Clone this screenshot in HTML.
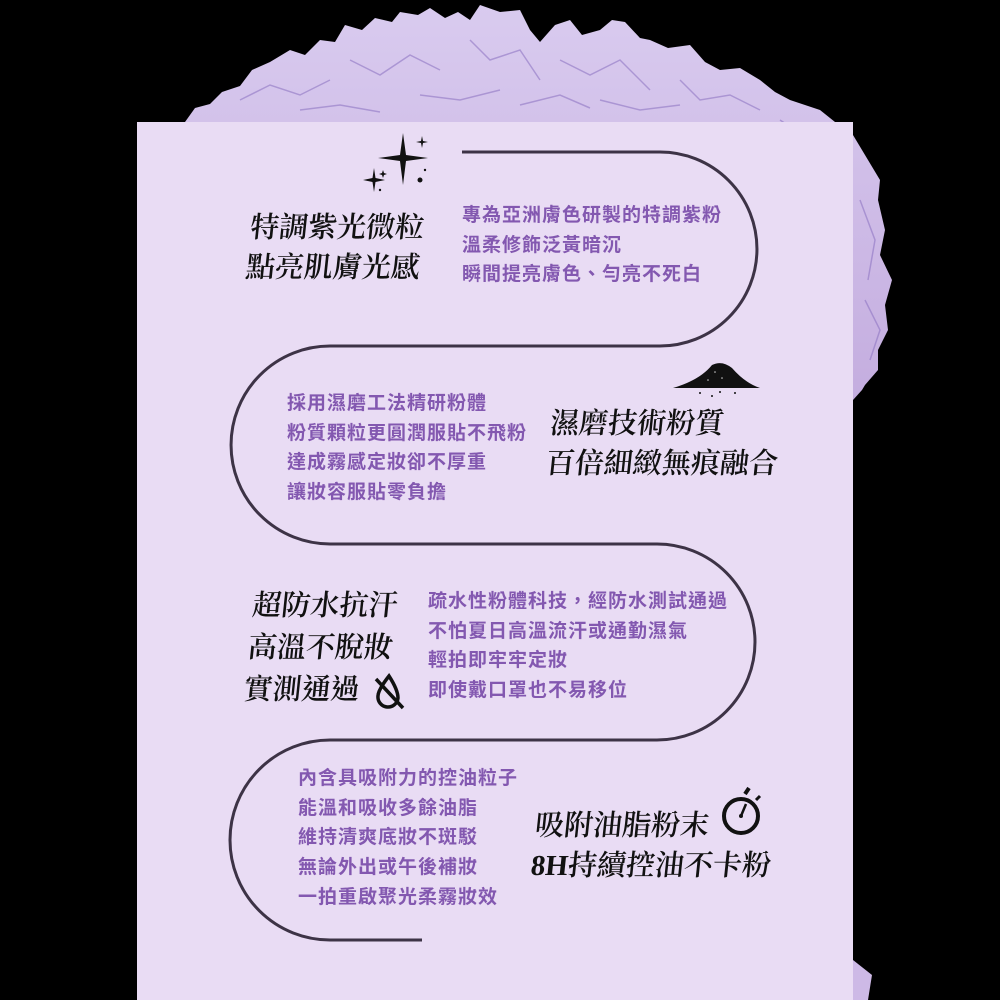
<!DOCTYPE html>
<html><head><meta charset="utf-8"><style>
html,body{margin:0;padding:0;background:#000;}
#c{position:relative;width:1000px;height:1000px;overflow:hidden;background:#000;}
.h{position:absolute;font-family:"Liberation Serif","Noto Serif CJK TC",serif;font-size:29px;letter-spacing:0px;color:#111;line-height:40px;white-space:nowrap;transform:skewX(-6deg);font-weight:600;}
.b{position:absolute;font-family:"Liberation Sans","Noto Sans CJK TC",sans-serif;font-weight:bold;font-size:19px;letter-spacing:1px;color:#8358b0;line-height:29.7px;white-space:nowrap;}
</style></head><body><div id="c">
<svg width="1000" height="1000" style="position:absolute;left:0;top:0">
<defs>
<linearGradient id="pg" x1="0" y1="0" x2="0" y2="1"><stop offset="0" stop-color="#d9cbef"/><stop offset="1" stop-color="#c4addf"/></linearGradient>
</defs>
<path d="M185,122 L195,108 L210,104 L222,92 L240,86 L252,70 L270,62 L290,50 L305,55 L320,40 L335,42 L345,25 L362,30 L375,18 L392,22 L400,12 L418,15 L430,8 L445,18 L458,12 L470,20 L480,5 L500,12 L520,10 L530,30 L540,42 L555,25 L570,20 L582,35 L600,30 L612,20 L625,22 L640,38 L650,40 L668,48 L690,45 L705,62 L720,70 L740,68 L760,80 L775,92 L790,100 L805,105 L820,110 L835,122 L850,130 L862,150 L868,160 L880,180 L878,200 L885,230 L880,255 L892,280 L885,305 L888,330 L878,350 L878,370 L865,385 L862,390 L853,400 L853,122 Z" fill="url(#pg)"/>
<g stroke="#9077c4" stroke-width="1.5" fill="none" opacity="0.6">
<path d="M240,100 L270,85 L300,95 L330,80"/><path d="M350,60 L380,75 L410,55 L440,70"/>
<path d="M470,40 L490,60 L520,50 L540,80"/><path d="M560,60 L590,75 L620,60 L650,90"/>
<path d="M680,80 L700,100 L730,95 L760,110"/><path d="M780,120 L810,140 L840,150"/>
<path d="M860,200 L875,240 L868,280"/><path d="M300,110 L340,105 L380,112"/>
<path d="M420,95 L460,100 L500,90"/><path d="M600,100 L640,110 L680,105"/>
<path d="M865,300 L880,330 L870,360"/><path d="M520,105 L560,95 L590,108"/>
</g>
<rect x="137" y="122" width="716" height="878" fill="#e9dcf4"/>
<path d="M853,960 L872,975 L868,1000 L853,1000Z" fill="#cdb9e6"/>
<path d="M462,152 H660 A97,97 0 0 1 660,346 H330 A99,99 0 0 0 330,544 H657 A98,98 0 0 1 657,740 H330 A100,100 0 0 0 330,940 H422" fill="none" stroke="#3d3346" stroke-width="3"/>
<g fill="#111">
<path d="M403,133 L406,155 L428,158 L406,161 L403,185 L400,161 L378,158 L400,155Z"/>
<path d="M374,168 L375.5,178 L385,180 L375.5,182 L374,192 L372.5,182 L363,180 L372.5,178Z"/>
<path d="M422,136 L423,141 L428,142 L423,143 L422,148 L421,143 L416,142 L421,141Z"/>
<path d="M383,170 L384,173 L387,174 L384,175 L383,178 L382,175 L379,174 L382,173Z"/>
<circle cx="420" cy="180" r="2.5"/><circle cx="425" cy="170" r="1.2"/><circle cx="380" cy="190" r="1.2"/>
</g>
<path d="M673,388 Q700,380 712,365 Q722,360 732,368 Q745,383 760,388Z" fill="#111"/>
<g fill="#111"><circle cx="700" cy="393" r="1"/><circle cx="712" cy="396" r="1"/><circle cx="720" cy="392" r="1"/><circle cx="735" cy="393" r="1"/></g>
<g fill="#ccc"><circle cx="715" cy="372" r="0.8"/><circle cx="722" cy="378" r="0.8"/><circle cx="708" cy="380" r="0.8"/></g>
<g stroke="#111" fill="none" stroke-width="3.5">
<path d="M389,676 Q378,690 378,696 A10,10 0 0 0 398,698 Q398,690 389,676Z"/>
<path d="M376,679 L403,708"/>
</g>
<g stroke="#111" fill="none">
<circle cx="741" cy="816" r="17" stroke-width="4"/>
<path d="M741,816 L746,804" stroke-width="2.5"/>
<path d="M745,794 L749,788" stroke-width="4"/>
<path d="M756,800 L760,796" stroke-width="3"/>
</g>
<circle cx="741" cy="816" r="2" fill="#111"/>
</svg>

<div class="h" style="left:248px;top:208px">特調紫光微粒<br>點亮肌膚光感</div>
<div class="b" style="left:462px;top:201px">專為亞洲膚色研製的特調紫粉<br>溫柔修飾泛黃暗沉<br>瞬間提亮膚色、勻亮不死白</div>

<div class="b" style="left:287px;top:389px">採用濕磨工法精研粉體<br>粉質顆粒更圓潤服貼不飛粉<br>達成霧感定妝卻不厚重<br>讓妝容服貼零負擔</div>
<div class="h" style="left:548px;top:404px">濕磨技術粉質<br>百倍細緻無痕融合</div>

<div class="h" style="left:248px;top:585px;line-height:42px">超防水抗汗<br>高溫不脫妝<br>實測通過</div>
<div class="b" style="left:428px;top:587px">疏水性粉體科技，經防水測試通過<br>不怕夏日高溫流汗或通勤濕氣<br>輕拍即牢牢定妝<br>即使戴口罩也不易移位</div>

<div class="b" style="left:298px;top:764px">內含具吸附力的控油粒子<br>能溫和吸收多餘油脂<br>維持清爽底妝不斑駁<br>無論外出或午後補妝<br>一拍重啟聚光柔霧妝效</div>
<div class="h" style="left:533px;top:806px">吸附油脂粉末<br>8H持續控油不卡粉</div>
</div></body></html>
